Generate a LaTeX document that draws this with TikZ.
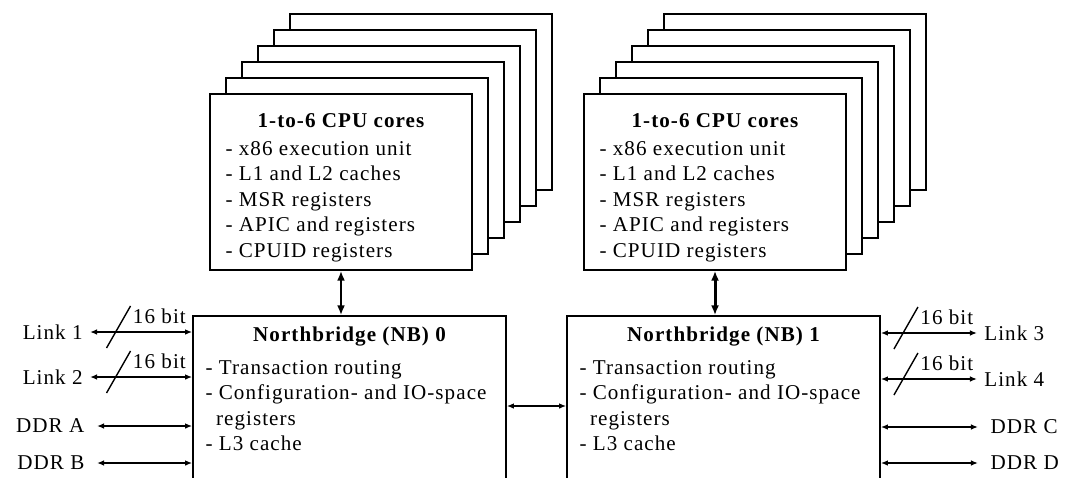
\documentclass[tikz,border=0pt,12pt]{standalone}
\usepackage{fontspec}
\setmainfont[LetterSpace=5.0]{Liberation Serif}
\usetikzlibrary{arrows.meta}
\usetikzlibrary{calc}

\begin{document}
\begin{tikzpicture}[x=0.02cm, y=-0.02cm,
	box/.style={draw, line width=1pt, fill=white, inner sep=0pt},
	core/.style={box, minimum width=5.24cm, minimum height=3.52cm},
	nb/.style={box, minimum width=6.26cm, minimum height=3.6cm},
	itemlist/.style={align=left, inner sep=0pt, anchor=north west},
	corebus/.style={{Latex[length=5.5pt,width=4.5pt]}-{Latex[length=5.5pt,width=4.5pt]}, line width=1.7pt},
	linkbus/.style={{Latex[length=4pt,width=3.2pt]}-{Latex[length=4pt,width=3.2pt]}, line width=1.2pt},
	ddrbus/.style={{Latex[length=4pt,width=3.2pt]}-{Latex[length=4pt,width=3.2pt]}, line width=0.9pt},
	ddrlabel/.style={inner xsep=7pt},
	width/.style={line width=0.8pt}]

	\def\dx{16} %shift of each hidden core box
	\def\dy{16}
	%picture frame, NB boxes run off the bottom
	\useasboundingbox (0,0) rectangle (1065,477);
	\clip (0,0) rectangle (1065,477);

	%core stack locations
	\coordinate (c0) at (341,182);
	\coordinate (c1) at (715,182);

	%hidden cores, back to front
	\foreach \k in {5,4,...,1} {
		\node[core] at ($(c0)+(\dx*\k,-\dy*\k)$) {};
		\node[core] at ($(c1)+(\dx*\k,-\dy*\k)$) {};
	}

	%front cores
	\node[core] (cpu0) at (c0) {};
	\node[core] (cpu1) at (c1) {};
	\foreach \c in {0,1} {
		\node[anchor=base, font=\bfseries] (cputitle\c) at ($(cpu\c.north)+(0,34)$) {1-to-6 CPU cores};
		\node[itemlist] (cpulist\c) at ($(cpu\c.north west)+(16,48)$)
			{- x86 execution unit\\- L1 and L2 caches\\- MSR registers\\- APIC and registers\\- CPUID registers};
	}

	%northbridges
	\node[nb] (nb0) at (349.5,406) {};
	\node[nb] (nb1) at (723.5,406) {};
	\foreach \c in {0,1} {
		\node[anchor=base, font=\bfseries] (nbtitle\c) at ($(nb\c.north)+(0,26)$) {Northbridge (NB) \c};
		\node[itemlist] (nblist\c) at ($(nb\c.north west)+(13,45)$)
			{- Transaction routing\\- Configuration- and IO-space\\\hspace*{0.5em}registers\\- L3 cache};
		\draw[corebus] (cpu\c.south) -- (cpu\c.south |- nb\c.north);
	}
	\draw[linkbus] (nb0.east) -- (nb1.west);

	%left side links
	\node[anchor=east] (link1) at (90,332) {Link 1};
	\node[anchor=east] (link2) at (90,377) {Link 2};
	\node[anchor=east, ddrlabel] (ddrA) at (97,426) {DDR A};
	\node[anchor=east, ddrlabel] (ddrB) at (97,463) {DDR B};
	\draw[linkbus] (link1.east) -- coordinate[pos=0.25] (w1) (link1.east -| nb0.west);
	\draw[linkbus] (link2.east) -- coordinate[pos=0.25] (w2) (link2.east -| nb0.west);
	\draw[ddrbus] (ddrA.east) -- (ddrA.east -| nb0.west);
	\draw[ddrbus] (ddrB.east) -- (ddrB.east -| nb0.west);

	%right side links
	\node[anchor=west] (link3) at (977,333) {Link 3};
	\node[anchor=west] (link4) at (977,379) {Link 4};
	\node[anchor=west, ddrlabel] (ddrC) at (978,427) {DDR C};
	\node[anchor=west, ddrlabel] (ddrD) at (978,463) {DDR D};
	\draw[linkbus] (nb1.east |- link3.west) -- coordinate[pos=0.23] (w3) (link3.west);
	\draw[linkbus] (nb1.east |- link4.west) -- coordinate[pos=0.23] (w4) (link4.west);
	\draw[ddrbus] (nb1.east |- ddrC.west) -- (ddrC.west);
	\draw[ddrbus] (nb1.east |- ddrD.west) -- (ddrD.west);

	%bus width marks
	\foreach \w in {w1,w2,w3,w4}
		\draw[width] (\w) ++(-9,16) -- ++(24,-42) node[anchor=north west, inner sep=1pt] {16 bit};

\end{tikzpicture}
\end{document}
